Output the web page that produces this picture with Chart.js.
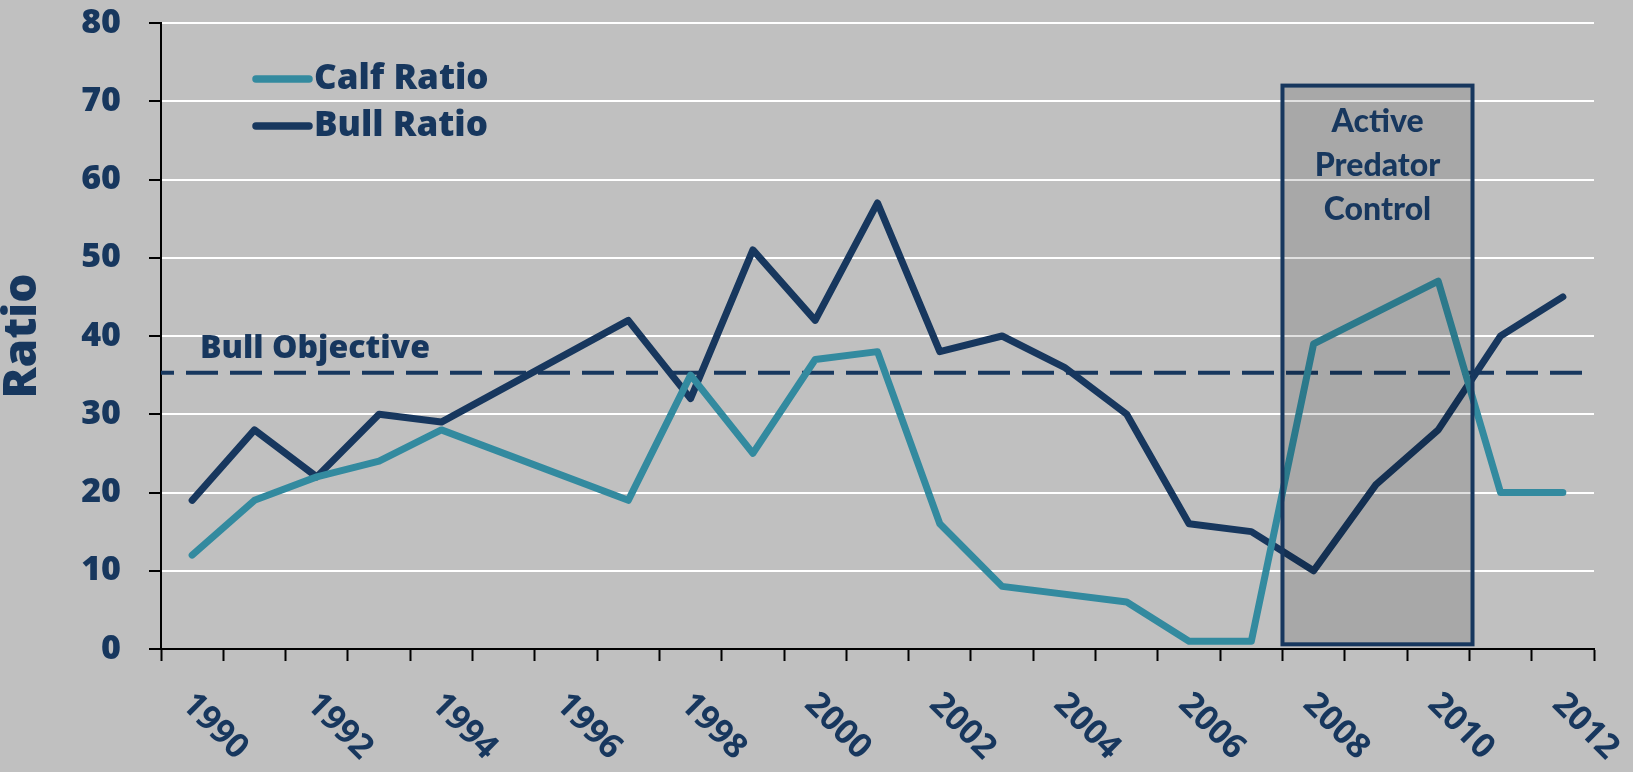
<!DOCTYPE html>
<html>
<head>
<meta charset="utf-8">
<script src="https://cdn.jsdelivr.net/npm/chart.js@4.4.1/dist/chart.umd.min.js"></script>
<style>
  html, body { margin: 0; padding: 0; background: #c0c0c0; }
  #wrap { width: 1633px; height: 772px; }
</style>
</head>
<body>
<div id="wrap"><canvas id="ratio-chart" width="1633" height="772"></canvas></div>
<script>
// Data (null = no survey that year)
const years = ['1990', '1991', '1992', '1993', '1994', '1995', '1996', '1997', '1998', '1999', '2000',
               '2001', '2002', '2003', '2004', '2005', '2006', '2007', '2008', '2009', '2010', '2011', '2012'];
const calfRatio = [12, 19, 22, 24, 28, null, null, 19, 35, 25, 37, 38, 16, 8, null, 6, 1, 1, 39, null, 47, 20, 20];
const bullRatio = [19, 28, 22, 30, 29, null, null, 42, 32, 51, 42, 57, 38, 40, 36, 30, 16, 15, 10, 21, 28, 40, 45];
const bullObjective = 35.3;
const controlYears = ['2008', '2010'];
const controlRange = [0.6, 72];
const controlLabel = ['Active', 'Predator', 'Control'];

const NAVY = '#17375e';
const TEAL = '#338a9f';
const FONT = '"Open Sans", "DejaVu Sans", sans-serif';

// dashed objective line + its label, under the series
const objectivePlugin = {
    id: 'objective',
    beforeDatasetsDraw(chart) {
        const { ctx, chartArea, scales: { y } } = chart;
        const py = y.getPixelForValue(bullObjective);
        ctx.save();
        ctx.strokeStyle = NAVY;
        ctx.lineWidth = 4;
        ctx.setLineDash([32, 12]);
        ctx.lineDashOffset = 19;
        ctx.beginPath();
        ctx.moveTo(chartArea.left, py);
        ctx.lineTo(chartArea.right, py);
        ctx.stroke();
        ctx.setLineDash([]);
        ctx.fillStyle = NAVY;
        ctx.font = '800 32px ' + FONT;
        ctx.textAlign = 'left';
        ctx.textBaseline = 'alphabetic';
        ctx.fillText('Bull Objective', chartArea.left + 39, py - 15);
        ctx.restore();
    }
};

// shaded box over the predator control years
const controlBoxPlugin = {
    id: 'controlBox',
    afterDatasetsDraw(chart) {
        const { ctx, scales: { x, y } } = chart;
        const x0 = x.getPixelForValue(years.indexOf(controlYears[0]) - 0.5);
        const x1 = x.getPixelForValue(years.indexOf(controlYears[1]) + 0.55);
        const yTop = y.getPixelForValue(controlRange[1]);
        const yBot = y.getPixelForValue(controlRange[0]);
        ctx.save();
        ctx.fillStyle = 'rgba(0, 0, 0, 0.12)';
        ctx.fillRect(x0, yTop, x1 - x0, yBot - yTop);
        ctx.strokeStyle = NAVY;
        ctx.lineWidth = 4;
        ctx.strokeRect(x0, yTop, x1 - x0, yBot - yTop);
        ctx.fillStyle = NAVY;
        ctx.font = '900 32px Lato, ' + FONT;
        ctx.textAlign = 'center';
        ctx.textBaseline = 'middle';
        controlLabel.forEach((line, i) => {
            ctx.fillText(line, (x0 + x1) / 2, yTop + 36 + i * 44);
        });
        ctx.restore();
    }
};

// legend inside the plot and the slanted year labels
const overlayPlugin = {
    id: 'overlay',
    afterDraw(chart) {
        const { ctx, chartArea, scales: { x } } = chart;
        ctx.save();
        ctx.lineCap = 'round';
        ctx.textAlign = 'left';
        ctx.textBaseline = 'middle';
        ctx.font = '800 35px ' + FONT;
        chart.data.datasets.forEach((ds, i) => {
            const ly = chartArea.top + 56 + i * 47;
            ctx.strokeStyle = ds.borderColor;
            ctx.lineWidth = 7.5;
            ctx.beginPath();
            ctx.moveTo(chartArea.left + 95, ly);
            ctx.lineTo(chartArea.left + 148, ly);
            ctx.stroke();
            ctx.fillStyle = NAVY;
            ctx.fillText(ds.label, chartArea.left + 153, ly);
        });

        ctx.font = '700 34px ' + FONT;
        years.forEach((yr, i) => {
            if (i % 2) return;
            ctx.save();
            ctx.translate(x.getPixelForValue(i) - 5, chartArea.bottom + 50);
            ctx.rotate(Math.PI / 4);
            ctx.fillText(yr, 0, 0);
            ctx.restore();
        });
        ctx.restore();
    }
};

const seriesStyle = {
    borderWidth: 7,
    pointRadius: 0,
    tension: 0,
    borderCapStyle: 'round',
    borderJoinStyle: 'round',
    fill: false
};

new Chart(document.getElementById('ratio-chart').getContext('2d'), {
    type: 'line',
    data: {
        labels: years,
        datasets: [
            { ...seriesStyle, label: 'Calf Ratio', data: calfRatio, borderColor: TEAL },
            { ...seriesStyle, label: 'Bull Ratio', data: bullRatio, borderColor: NAVY }
        ]
    },
    plugins: [objectivePlugin, controlBoxPlugin, overlayPlugin],
    options: {
        responsive: false,
        animation: false,
        spanGaps: true,
        layout: { padding: { top: 23, right: 39, bottom: 0, left: 0 } },
        plugins: {
            legend: { display: false },
            tooltip: { enabled: false }
        },
        scales: {
            x: {
                offset: true,
                grid: { offset: true, drawOnChartArea: false, tickLength: 12, tickColor: '#000', tickWidth: 2 },
                border: { color: '#000', width: 2 },
                ticks: { display: false },
                afterFit: (scale) => { scale.height = 123; }
            },
            y: {
                min: 0,
                max: 80,
                ticks: {
                    stepSize: 5,
                    padding: 28,
                    color: NAVY,
                    font: { family: FONT, size: 34, weight: '800' },
                    callback: (v) => (v % 10 === 0 ? v : '')
                },
                grid: {
                    color: (c) => (c.tick && c.tick.value % 10 === 0 ? '#ffffff' : 'rgba(0,0,0,0)'),
                    lineWidth: 2,
                    tickLength: 12,
                    tickColor: '#000',
                    tickWidth: 2
                },
                border: { color: '#000', width: 2 },
                title: {
                    display: true,
                    text: 'Ratio',
                    color: NAVY,
                    padding: 0,
                    font: { family: FONT, size: 46, weight: '800', lineHeight: 1 }
                },
                afterFit: (scale) => {
                    scale.width = 161;
                    scale.paddingTop = 0;
                    scale.paddingBottom = 0;
                }
            }
        }
    }
});
</script>
</body>
</html>
